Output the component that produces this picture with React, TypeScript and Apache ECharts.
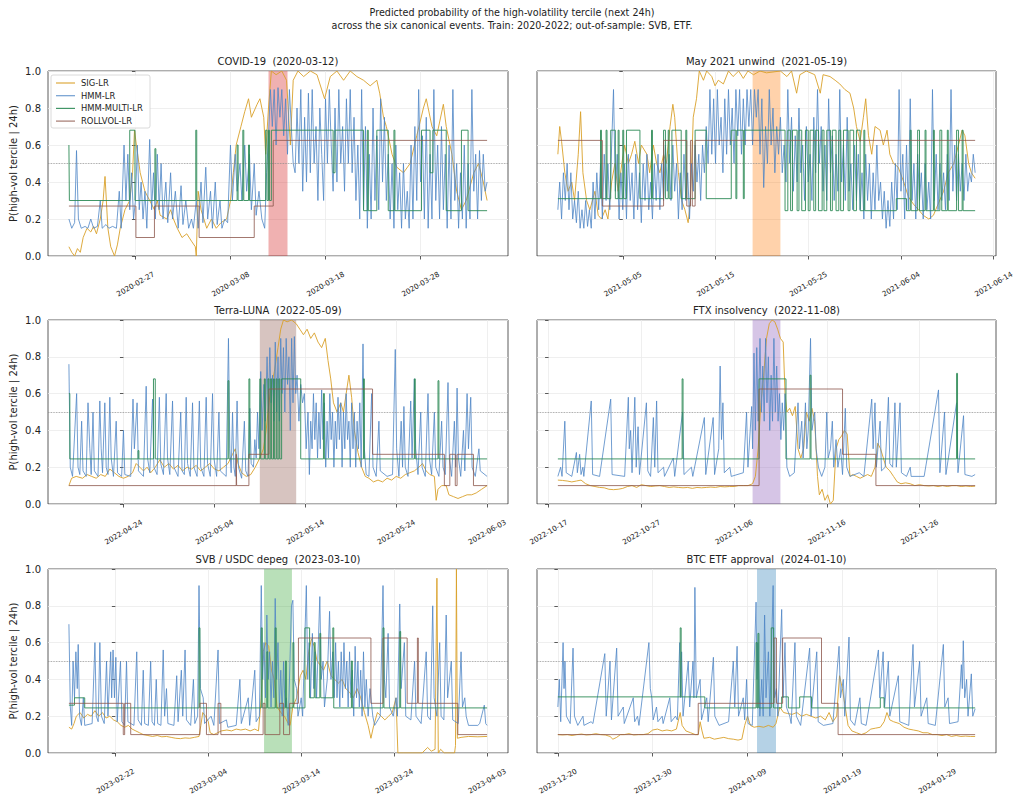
import React, { useEffect, useRef } from "react";
import * as echarts from "echarts";

type Pt = [number, number];

const SERIES_NAMES = ["SIG-LR", "HMM-LR", "HMM-MULTI-LR", "ROLLVOL-LR"];
const MAIN_TITLE = [
  "Predicted probability of the high-volatility tercile (next 24h)",
  "across the six canonical events. Train: 2020-2022; out-of-sample: SVB, ETF.",
];
const Y_LABEL = "P(high-vol tercile | 24h)";
const EVENT_TITLES = [
  "COVID-19 \u00a0(2020-03-12)",
  "May 2021 unwind \u00a0(2021-05-19)",
  "Terra-LUNA \u00a0(2022-05-09)",
  "FTX insolvency \u00a0(2022-11-08)",
  "SVB / USDC depeg \u00a0(2023-03-10)",
  "BTC ETF approval \u00a0(2024-01-10)",
];
// window start dates; all values below are [days after window start, probability]
const WINDOW_START = ["2020-02-20", "2021-04-28", "2022-04-18", "2022-10-18", "2023-02-17", "2023-12-20"];
const WINDOW_END_DAY = [44, 45, 46, 45, 45, 44];
const SHADE_START_DAY = [21, 21, 21, 21, 21, 21];
const SHADE_END_DAY = [23, 24, 25, 24, 24, 23];
const TICK_ANCHOR = ["2020-02-27", "2021-05-05", "2022-04-24", "2022-10-17", "2023-02-22", "2023-12-20"];
const TICK_STEPS = [0, 10, 20, 30, 40];

// ---------- COVID-19 ----------
const covidSig: Pt[] = [[0,0.05],[0.3,0.02],[0.6,0.0],[0.9,0.04],[1.2,0.02],[1.5,0.1],[1.9,0.15],[2.3,0.13],[2.6,0.16],[2.9,0.12],[3.3,0.2],[3.6,0.3],[3.8,0.43],[4.1,0.15],[4.4,0.05],[4.8,0.0],[5.1,0.06],[5.4,0.15],[5.9,0.25],[6.4,0.3],[6.7,0.45],[6.9,0.68],[7.1,0.6],[7.5,0.45],[8.0,0.35],[8.5,0.3],[9.0,0.25],[9.3,0.3],[9.6,0.22],[10.3,0.2],[10.7,0.25],[11.0,0.2],[11.4,0.15],[11.9,0.1],[12.4,0.12],[12.9,0.08],[13.3,0.05],[13.4,0.0],[13.6,0.35],[13.9,0.25],[14.5,0.15],[15.0,0.2],[15.5,0.15],[16.0,0.18],[16.6,0.2],[17.0,0.3],[17.3,0.45],[17.6,0.6],[18.1,0.7],[18.5,0.78],[18.9,0.85],[19.2,0.75],[19.8,0.82],[20.1,0.85],[20.5,0.75],[20.7,0.55],[21.0,0.8],[21.3,1.0],[21.8,0.98],[22.4,1.0],[22.9,0.95],[23.3,0.6],[23.6,0.95],[24.1,1.0],[24.7,0.97],[25.4,1.0],[26.1,0.98],[26.9,0.85],[27.5,0.97],[28.2,1.0],[28.9,0.95],[29.6,1.0],[30.3,0.97],[31.0,0.95],[31.7,0.92],[32.4,0.95],[32.7,0.88],[33.1,0.75],[33.4,0.7],[34.0,0.55],[34.5,0.48],[35.2,0.45],[35.9,0.5],[36.6,0.65],[37.3,0.8],[37.6,0.85],[38.2,0.7],[38.7,0.65],[39.4,0.82],[39.7,0.7],[40.3,0.55],[40.8,0.35],[41.3,0.25],[41.8,0.3],[42.6,0.45],[43.1,0.5],[43.6,0.4],[44.0,0.3]];
const covidHmm: Pt[] = [[0,0.2],[0.3,0.15],[0.6,0.18],[0.8,0.57],[1.0,0.2],[1.3,0.15],[1.7,0.16],[2.0,0.15],[2.3,0.2],[2.6,0.15],[3.0,0.16],[3.3,0.3],[3.5,0.15],[3.9,0.17],[4.2,0.15],[4.6,0.16],[5.0,0.15],[5.3,0.35],[5.5,0.15],[5.8,0.6],[6.0,0.3],[6.2,0.55],[6.4,0.25],[6.6,0.45],[6.8,0.2],[7.0,0.3],[7.2,0.6],[7.4,0.25],[7.6,0.4],[7.8,0.2],[8.0,0.35],[8.2,0.15],[8.5,0.63],[8.7,0.25],[8.9,0.45],[9.1,0.2],[9.3,0.55],[9.5,0.25],[9.7,0.5],[9.9,0.2],[10.2,0.4],[10.4,0.18],[10.7,0.45],[10.9,0.2],[11.2,0.35],[11.5,0.15],[11.8,0.38],[12.0,0.17],[12.3,0.3],[12.6,0.15],[12.9,0.2],[13.1,0.15],[13.4,0.3],[13.6,0.15],[13.9,0.4],[14.1,0.18],[14.4,0.48],[14.6,0.2],[14.9,0.35],[15.1,0.15],[15.4,0.4],[15.6,0.17],[15.9,0.3],[16.1,0.15],[16.4,0.2],[16.7,0.18],[17.0,0.6],[17.2,0.3],[17.5,0.55],[17.7,0.35],[18.0,0.5],[18.2,0.3],[18.5,0.6],[18.7,0.35],[19.0,0.55],[19.2,0.25],[19.5,0.5],[19.7,0.22],[20.0,0.35],[20.3,0.2],[20.6,0.15],[20.8,0.45],[21.0,0.65],[21.2,0.9],[21.4,0.7],[21.6,0.9],[21.8,0.6],[22.0,0.91],[22.2,0.75],[22.4,0.9],[22.6,0.65],[22.8,0.85],[23.0,0.55],[23.2,0.9],[23.4,0.7],[23.6,0.5],[23.8,0.45],[24.0,0.8],[24.2,0.5],[24.4,0.9],[24.6,0.35],[24.8,0.75],[25.0,0.4],[25.2,0.88],[25.4,0.45],[25.6,0.9],[25.8,0.5],[26.0,0.7],[26.2,0.3],[26.4,0.8],[26.6,0.55],[26.8,0.3],[27.0,0.85],[27.2,0.5],[27.4,0.9],[27.6,0.6],[27.8,0.35],[28.0,0.8],[28.2,0.4],[28.4,0.9],[28.6,0.5],[28.8,0.7],[29.0,0.35],[29.2,0.85],[29.4,0.5],[29.6,0.9],[29.8,0.45],[30.0,0.75],[30.2,0.3],[30.4,0.6],[30.6,0.2],[30.8,0.9],[31.0,0.25],[31.2,0.7],[31.4,0.15],[31.6,0.55],[31.8,0.2],[32.0,0.8],[32.2,0.3],[32.4,0.65],[32.6,0.25],[32.8,0.85],[33.0,0.4],[33.2,0.75],[33.4,0.3],[33.6,0.55],[33.8,0.2],[34.0,0.5],[34.2,0.15],[34.4,0.6],[34.6,0.25],[34.8,0.45],[35.0,0.15],[35.2,0.5],[35.4,0.2],[35.6,0.35],[35.8,0.15],[36.0,0.6],[36.2,0.2],[36.4,0.7],[36.6,0.3],[36.8,0.9],[37.0,0.4],[37.2,0.65],[37.4,0.2],[37.6,0.75],[37.8,0.15],[38.0,0.55],[38.2,0.2],[38.4,0.9],[38.6,0.3],[38.8,0.6],[39.0,0.2],[39.2,0.7],[39.4,0.25],[39.6,0.55],[39.8,0.15],[40.0,0.6],[40.2,0.2],[40.4,0.9],[40.6,0.3],[40.8,0.5],[41.0,0.15],[41.2,0.45],[41.4,0.2],[41.6,0.6],[41.8,0.15],[42.0,0.5],[42.2,0.2],[42.4,0.9],[42.6,0.35],[42.8,0.55],[43.0,0.2],[43.2,0.57],[43.4,0.3],[43.6,0.55],[43.8,0.35],[44.0,0.4]];
const covidMulti: Pt[] = [[0,0.6],[0.05,0.3],[6.4,0.68],[6.95,0.3],[9.05,0.58],[9.15,0.3],[13.35,0.68],[13.45,0.3],[17.7,0.6],[17.8,0.3],[18.3,0.68],[18.4,0.3],[18.9,0.6],[19.0,0.3],[20.7,0.68],[20.85,0.3],[21.0,0.68],[21.1,0.3],[21.3,0.68],[27.8,0.45],[28.0,0.68],[31.0,0.245],[31.4,0.68],[31.5,0.245],[32.4,0.68],[33.6,0.245],[34.2,0.68],[34.3,0.245],[37.1,0.68],[38.0,0.45],[38.3,0.68],[39.7,0.245],[41.3,0.68],[42.0,0.245],[44.0,0.245]];
const covidRoll: Pt[] = [[0,0.27],[7.05,0.1],[9.0,0.27],[13.7,0.1],[19.5,0.27],[21.5,0.625],[44.0,0.625]];

// ---------- May 2021 ----------
const maySig: Pt[] = [[0,0.55],[0.2,0.7],[0.4,0.62],[0.75,0.45],[1.1,0.35],[1.5,0.4],[1.8,0.3],[2.2,0.55],[2.45,0.78],[2.7,0.45],[3.1,0.3],[3.45,0.25],[4.0,0.35],[4.35,0.22],[4.7,0.2],[5.1,0.25],[5.4,0.2],[5.8,0.4],[6.15,0.5],[6.5,0.35],[6.9,0.5],[7.2,0.6],[7.6,0.5],[7.95,0.55],[8.3,0.62],[8.7,0.5],[9.0,0.6],[9.6,0.55],[9.9,0.45],[10.3,0.6],[10.65,0.5],[11.0,0.45],[11.4,0.55],[11.7,0.5],[12.1,0.7],[12.4,0.82],[12.6,0.75],[13.0,0.45],[13.35,0.3],[13.7,0.25],[14.05,0.18],[14.3,0.3],[14.6,0.75],[14.95,0.85],[15.25,1.0],[15.7,0.95],[16.05,1.0],[16.6,0.97],[16.95,0.92],[17.3,0.95],[17.85,0.93],[18.4,1.0],[18.9,0.97],[19.5,1.0],[20.0,0.96],[20.5,1.0],[21.1,0.98],[21.8,1.0],[22.5,0.99],[24.0,1.0],[24.7,0.97],[25.2,1.0],[25.75,0.88],[26.1,0.98],[26.8,1.0],[27.7,0.98],[28.3,0.88],[28.6,0.98],[29.35,0.97],[29.9,0.95],[30.4,0.93],[30.95,0.9],[31.5,0.88],[31.9,0.8],[32.2,0.7],[32.6,0.62],[32.95,0.75],[33.2,0.85],[33.5,0.65],[33.85,0.55],[34.2,0.7],[34.75,0.68],[35.1,0.6],[35.5,0.68],[35.8,0.55],[36.2,0.5],[36.7,0.48],[37.3,0.4],[37.8,0.32],[38.35,0.28],[38.9,0.25],[39.4,0.22],[40.0,0.2],[40.5,0.22],[41.0,0.28],[41.6,0.35],[42.1,0.45],[42.7,0.5],[43.2,0.6],[43.6,0.68],[43.9,0.65],[44.3,0.5],[44.6,0.45],[45.0,0.42]];
const mayHmm: Pt[] = [[0,0.25],[0.2,0.4],[0.4,0.2],[0.6,0.45],[0.8,0.3],[1.0,0.5],[1.2,0.25],[1.4,0.45],[1.6,0.2],[1.8,0.3],[2.0,0.18],[2.2,0.35],[2.4,0.15],[2.6,0.25],[2.8,0.15],[3.0,0.3],[3.2,0.16],[3.4,0.25],[3.6,0.15],[3.8,0.4],[4.0,0.2],[4.2,0.45],[4.4,0.25],[4.6,0.5],[4.8,0.2],[5.0,0.55],[5.2,0.3],[5.4,0.5],[5.6,0.25],[5.8,0.6],[6.0,0.9],[6.2,0.35],[6.4,0.55],[6.6,0.2],[6.8,0.45],[7.0,0.25],[7.2,0.5],[7.4,0.2],[7.6,0.55],[7.8,0.3],[8.0,0.45],[8.2,0.2],[8.4,0.55],[8.6,0.25],[8.8,0.45],[9.0,0.18],[9.2,0.5],[9.4,0.3],[9.6,0.55],[9.8,0.25],[10.0,0.4],[10.2,0.2],[10.4,0.5],[10.6,0.3],[10.8,0.55],[11.0,0.25],[11.2,0.5],[11.4,0.3],[11.6,0.6],[11.8,0.35],[12.0,0.55],[12.2,0.3],[12.4,0.6],[12.6,0.35],[12.8,0.5],[13.0,0.2],[13.2,0.45],[13.4,0.25],[13.6,0.55],[13.8,0.3],[14.0,0.45],[14.2,0.2],[14.4,0.5],[14.6,0.35],[14.8,0.6],[15.0,0.4],[15.2,0.55],[15.4,0.3],[15.6,0.6],[15.8,0.45],[16.0,0.7],[16.2,0.5],[16.4,0.9],[16.6,0.55],[16.8,0.85],[17.0,0.5],[17.2,0.9],[17.4,0.6],[17.6,0.75],[17.8,0.45],[18.0,0.85],[18.2,0.55],[18.4,0.9],[18.6,0.6],[18.8,0.8],[19.0,0.5],[19.2,0.9],[19.4,0.65],[19.6,0.9],[19.8,0.55],[20.0,0.85],[20.2,0.6],[20.4,0.9],[20.6,0.7],[20.8,0.9],[21.0,0.6],[21.2,0.9],[21.4,0.75],[21.6,0.9],[21.8,0.55],[22.0,0.85],[22.2,0.37],[22.4,0.7],[22.6,0.5],[22.8,0.9],[23.0,0.6],[23.2,0.8],[23.4,0.45],[23.6,0.7],[23.8,0.55],[24.0,0.75],[24.2,0.45],[24.4,0.6],[24.6,0.4],[24.8,0.9],[25.0,0.5],[25.2,0.75],[25.4,0.35],[25.6,0.65],[25.8,0.4],[26.0,0.8],[26.2,0.45],[26.4,0.6],[26.6,0.3],[26.8,0.7],[27.0,0.4],[27.2,0.55],[27.4,0.3],[27.6,0.75],[27.8,0.45],[28.0,0.9],[28.2,0.5],[28.4,0.7],[28.6,0.35],[28.8,0.6],[29.0,0.3],[29.2,0.85],[29.4,0.45],[29.6,0.65],[29.8,0.3],[30.0,0.55],[30.2,0.35],[30.4,0.9],[30.6,0.4],[30.8,0.6],[31.0,0.3],[31.2,0.75],[31.4,0.35],[31.6,0.5],[31.8,0.25],[32.0,0.6],[32.2,0.3],[32.4,0.55],[32.6,0.25],[32.8,0.45],[33.0,0.2],[33.2,0.55],[33.4,0.3],[33.6,0.5],[33.8,0.2],[34.0,0.45],[34.2,0.25],[34.4,0.6],[34.6,0.3],[34.8,0.4],[35.0,0.2],[35.2,0.35],[35.4,0.15],[35.6,0.3],[35.8,0.16],[36.0,0.4],[36.2,0.2],[36.4,0.5],[36.6,0.25],[36.8,0.9],[37.0,0.35],[37.2,0.55],[37.4,0.2],[37.6,0.6],[37.8,0.25],[38.0,0.85],[38.2,0.3],[38.4,0.5],[38.6,0.2],[38.8,0.55],[39.0,0.3],[39.2,0.45],[39.4,0.2],[39.6,0.5],[39.8,0.25],[40.0,0.4],[40.2,0.2],[40.4,0.9],[40.6,0.3],[40.8,0.55],[41.0,0.25],[41.2,0.5],[41.4,0.3],[41.6,0.45],[41.8,0.25],[42.0,0.55],[42.2,0.3],[42.4,0.9],[42.6,0.35],[42.8,0.6],[43.0,0.3],[43.2,0.55],[43.4,0.35],[43.6,0.5],[43.8,0.3],[44.0,0.55],[44.2,0.35],[44.4,0.45],[44.6,0.4],[44.8,0.55],[45.0,0.45]];
const mayMulti: Pt[] = [[0,0.31],[4.6,0.68],[4.7,0.31],[5.2,0.68],[5.3,0.31],[5.7,0.68],[6.2,0.31],[6.5,0.68],[6.6,0.31],[7.0,0.68],[7.1,0.31],[7.4,0.68],[8.85,0.31],[10.1,0.68],[10.2,0.31],[11.4,0.68],[11.6,0.31],[11.9,0.68],[12.0,0.31],[12.3,0.68],[13.3,0.31],[13.8,0.68],[13.9,0.31],[14.8,0.68],[16.0,0.31],[18.7,0.68],[19.2,0.31],[19.3,0.68],[20.0,0.31],[20.1,0.68],[24.5,0.245],[24.8,0.68],[25.1,0.245],[25.3,0.68],[25.8,0.245],[26.0,0.68],[26.3,0.245],[26.7,0.68],[27.0,0.245],[27.2,0.68],[27.6,0.245],[27.8,0.68],[28.1,0.245],[28.5,0.68],[28.7,0.245],[29.0,0.68],[29.4,0.245],[29.6,0.68],[30.0,0.245],[30.3,0.68],[30.5,0.245],[30.8,0.68],[31.3,0.245],[31.5,0.68],[31.9,0.245],[32.2,0.68],[32.6,0.245],[33.0,0.68],[33.1,0.245],[36.5,0.31],[37.6,0.245],[38.0,0.68],[38.1,0.245],[38.8,0.68],[39.0,0.245],[39.6,0.68],[39.7,0.245],[40.5,0.68],[40.6,0.245],[41.2,0.68],[41.4,0.245],[42.0,0.68],[42.1,0.245],[43.0,0.68],[43.2,0.245],[43.6,0.68],[43.7,0.245],[45.0,0.245]];
const mayRoll: Pt[] = [[0,0.625],[4.8,0.27],[11.4,0.625],[13.9,0.27],[14.3,0.625],[14.5,0.27],[14.8,0.625],[45.0,0.625]];

// ---------- Terra-LUNA ----------
const lunaSig: Pt[] = [[0,0.1],[0.3,0.14],[0.8,0.15],[1.5,0.14],[2.0,0.16],[2.5,0.15],[3.0,0.14],[3.5,0.16],[4.0,0.15],[4.5,0.19],[5.0,0.17],[5.5,0.15],[6.0,0.14],[6.5,0.15],[7.0,0.17],[7.4,0.22],[7.8,0.2],[8.2,0.18],[8.6,0.2],[9.0,0.17],[9.5,0.2],[10.0,0.24],[10.5,0.2],[11.0,0.22],[11.5,0.19],[12.0,0.21],[12.5,0.18],[13.0,0.2],[13.5,0.19],[14.0,0.21],[14.5,0.18],[15.0,0.2],[15.5,0.22],[16.0,0.19],[16.5,0.18],[17.0,0.2],[17.5,0.22],[18.0,0.27],[18.3,0.3],[18.6,0.22],[19.0,0.17],[19.5,0.15],[20.0,0.16],[20.5,0.2],[21.0,0.25],[21.4,0.3],[21.7,0.4],[22.0,0.55],[22.3,0.65],[22.6,0.72],[23.0,0.85],[23.3,0.95],[23.6,1.0],[24.0,0.99],[24.5,1.0],[25.0,0.98],[25.4,0.95],[25.8,0.92],[26.2,0.95],[26.6,0.9],[27.0,0.93],[27.4,0.88],[27.8,0.85],[28.2,0.9],[28.5,0.78],[28.8,0.68],[29.1,0.55],[29.5,0.5],[29.9,0.55],[30.2,0.5],[30.5,0.6],[30.8,0.7],[31.1,0.58],[31.4,0.4],[31.8,0.28],[32.2,0.2],[32.6,0.15],[33.0,0.14],[33.5,0.12],[34.0,0.13],[34.5,0.12],[35.0,0.14],[35.5,0.13],[36.0,0.15],[36.5,0.14],[37.0,0.16],[37.5,0.17],[38.0,0.18],[38.5,0.2],[38.9,0.22],[39.3,0.18],[39.7,0.16],[40.2,0.15],[40.4,0.02],[40.6,0.08],[41.0,0.1],[41.5,0.1],[41.8,0.05],[42.3,0.04],[42.8,0.03],[43.3,0.04],[43.8,0.05],[44.3,0.05],[44.8,0.06],[45.4,0.08],[46.0,0.1]];
const lunaHmm: Pt[] = [[0,0.76],[0.15,0.2],[0.4,0.15],[0.85,0.6],[1.0,0.2],[1.2,0.16],[1.4,0.45],[1.55,0.18],[1.9,0.15],[2.1,0.55],[2.3,0.3],[2.45,0.16],[2.65,0.5],[2.8,0.18],[3.2,0.15],[3.4,0.56],[3.55,0.3],[3.7,0.17],[3.95,0.55],[4.1,0.2],[4.3,0.16],[4.5,0.58],[4.65,0.25],[4.9,0.15],[5.2,0.45],[5.35,0.17],[5.8,0.15],[6.0,0.4],[6.15,0.16],[6.8,0.15],[7.05,0.57],[7.2,0.3],[7.5,0.55],[7.65,0.18],[8.2,0.15],[8.5,0.64],[8.65,0.25],[8.9,0.17],[9.2,0.57],[9.35,0.2],[9.7,0.16],[9.95,0.58],[10.1,0.22],[10.4,0.16],[10.7,0.6],[10.85,0.25],[11.1,0.16],[11.4,0.56],[11.55,0.2],[12.0,0.15],[12.3,0.5],[12.45,0.18],[12.7,0.16],[12.9,0.58],[13.05,0.22],[13.35,0.15],[13.6,0.55],[13.75,0.2],[14.1,0.15],[14.35,0.56],[14.5,0.2],[14.85,0.15],[15.1,0.58],[15.25,0.22],[15.55,0.15],[15.8,0.6],[15.95,0.25],[16.25,0.15],[16.5,0.5],[16.65,0.18],[17.3,0.15],[17.55,0.9],[17.7,0.3],[17.85,0.17],[18.0,0.5],[18.15,0.2],[18.3,0.15],[18.5,0.56],[18.65,0.2],[19.0,0.14],[19.3,0.45],[19.45,0.18],[19.7,0.15],[19.9,0.52],[20.05,0.22],[20.3,0.2],[20.45,0.35],[20.6,0.25],[20.75,0.5],[20.9,0.3],[21.1,0.72],[21.25,0.4],[21.45,0.65],[21.6,0.45],[21.8,0.8],[21.95,0.5],[22.1,0.85],[22.25,0.55],[22.4,0.7],[22.55,0.45],[22.7,0.88],[22.85,0.5],[23.0,0.8],[23.15,0.45],[23.3,0.9],[23.45,0.6],[23.6,0.85],[23.75,0.5],[23.9,0.9],[24.05,0.65],[24.2,0.8],[24.35,0.4],[24.5,0.9],[24.65,0.55],[24.8,0.91],[24.95,0.6],[25.1,0.7],[25.3,0.45],[25.5,0.65],[25.7,0.55],[25.9,0.6],[26.1,0.3],[26.3,0.5],[26.45,0.16],[26.6,0.45],[26.75,0.3],[26.9,0.6],[27.05,0.35],[27.2,0.55],[27.35,0.25],[27.5,0.5],[27.65,0.3],[27.8,0.62],[27.95,0.35],[28.1,0.55],[28.25,0.2],[28.4,0.45],[28.55,0.25],[28.7,0.6],[28.85,0.35],[29.0,0.5],[29.15,0.2],[29.3,0.45],[29.45,0.3],[29.6,0.58],[29.75,0.35],[29.9,0.55],[30.05,0.2],[30.2,0.5],[30.35,0.3],[30.5,0.6],[30.65,0.35],[30.8,0.45],[30.95,0.2],[31.1,0.55],[31.25,0.3],[31.4,0.5],[31.55,0.2],[31.7,0.45],[31.85,0.3],[32.0,0.55],[32.15,0.2],[32.35,0.87],[32.5,0.3],[32.7,0.16],[33.0,0.15],[33.3,0.6],[33.45,0.2],[33.8,0.15],[34.1,0.45],[34.25,0.18],[35.0,0.15],[35.6,0.16],[35.9,0.84],[36.05,0.3],[36.3,0.15],[36.55,0.45],[36.7,0.2],[36.85,0.53],[37.0,0.2],[37.3,0.15],[37.6,0.56],[37.75,0.25],[38.0,0.68],[38.15,0.3],[38.4,0.16],[38.7,0.5],[38.85,0.2],[39.2,0.15],[39.5,0.6],[39.65,0.25],[39.9,0.16],[40.2,0.5],[40.35,0.2],[40.7,0.15],[41.0,0.45],[41.15,0.2],[41.4,0.16],[41.7,0.66],[41.85,0.25],[42.1,0.15],[42.4,0.45],[42.55,0.2],[42.7,0.63],[42.85,0.25],[43.1,0.15],[43.4,0.4],[43.55,0.18],[43.8,0.6],[43.95,0.3],[44.2,0.58],[44.35,0.2],[44.7,0.15],[45.1,0.3],[45.25,0.18],[46.0,0.15]];
const lunaMulti: Pt[] = [[0,0.6],[0.1,0.245],[7.6,0.29],[7.7,0.245],[9.3,0.68],[9.5,0.245],[17.5,0.67],[17.6,0.245],[19.8,0.68],[19.9,0.245],[21.0,0.68],[21.1,0.245],[21.5,0.68],[21.6,0.245],[21.9,0.68],[22.0,0.245],[22.2,0.68],[22.3,0.245],[22.5,0.68],[22.6,0.245],[22.8,0.68],[22.9,0.245],[23.1,0.68],[23.2,0.245],[23.4,0.68],[25.5,0.245],[28.0,0.6],[28.1,0.245],[32.4,0.68],[32.5,0.245],[38.0,0.68],[38.1,0.245],[40.6,0.67],[40.7,0.245],[46.0,0.245]];
const lunaRoll: Pt[] = [[0,0.1],[18.4,0.27],[18.45,0.1],[19.8,0.27],[22.0,0.625],[33.4,0.27],[41.3,0.1],[41.9,0.27],[42.5,0.1],[42.7,0.27],[44.5,0.1],[46.0,0.1]];

// ---------- FTX ----------
const ftxSig: Pt[] = [[0,0.13],[0.5,0.128],[1.0,0.125],[1.5,0.12],[2.0,0.125],[2.5,0.13],[3.0,0.11],[3.5,0.1],[4.0,0.095],[4.5,0.09],[5.0,0.088],[5.5,0.08],[6.0,0.078],[6.5,0.08],[7.0,0.085],[7.5,0.095],[8.0,0.1],[8.5,0.09],[9.0,0.105],[9.5,0.1],[10.0,0.095],[10.5,0.098],[11.0,0.1],[11.5,0.095],[12.0,0.09],[12.5,0.093],[13.0,0.09],[13.5,0.088],[14.0,0.09],[14.5,0.085],[15.0,0.09],[15.5,0.088],[16.0,0.09],[16.5,0.092],[17.0,0.09],[17.5,0.095],[18.0,0.093],[18.5,0.095],[19.0,0.095],[19.5,0.1],[20.0,0.1],[20.5,0.1],[21.0,0.11],[21.3,0.15],[21.6,0.3],[21.9,0.55],[22.2,0.7],[22.5,0.9],[22.8,0.98],[23.1,1.0],[23.4,0.99],[23.7,0.95],[24.0,0.9],[24.3,0.88],[24.5,0.6],[24.7,0.5],[25.0,0.52],[25.3,0.48],[25.6,0.53],[25.9,0.3],[26.2,0.25],[26.5,0.3],[26.8,0.5],[27.1,0.45],[27.4,0.52],[27.7,0.45],[28.0,0.15],[28.2,0.05],[28.5,0.08],[28.8,0.02],[29.1,0.05],[29.4,0.0],[29.7,0.02],[30.0,0.3],[30.3,0.35],[30.6,0.37],[30.9,0.4],[31.2,0.38],[31.5,0.15],[31.8,0.16],[32.2,0.15],[32.6,0.14],[33.0,0.15],[33.4,0.16],[33.8,0.15],[34.2,0.2],[34.5,0.33],[34.8,0.3],[35.1,0.25],[35.4,0.2],[35.8,0.18],[36.2,0.15],[36.6,0.12],[37.0,0.11],[37.5,0.115],[38.0,0.11],[38.5,0.1],[39.0,0.105],[39.5,0.1],[40.0,0.098],[40.5,0.1],[41.0,0.095],[41.5,0.1],[42.0,0.095],[42.5,0.1],[43.0,0.1],[43.5,0.095],[44.0,0.098],[44.5,0.095],[45.0,0.097]];
const ftxHmm: Pt[] = [[0,0.15],[0.3,0.2],[0.45,0.15],[0.75,0.45],[0.9,0.17],[1.5,0.15],[2.0,0.28],[2.1,0.17],[2.35,0.27],[2.5,0.16],[2.7,0.2],[2.8,0.15],[3.6,0.56],[3.75,0.16],[4.5,0.15],[5.7,0.57],[5.85,0.16],[7.2,0.15],[7.6,0.58],[7.7,0.3],[7.85,0.4],[8.0,0.17],[8.3,0.58],[8.45,0.2],[8.65,0.42],[8.8,0.16],[9.55,0.55],[9.7,0.18],[10.0,0.15],[10.3,0.47],[10.45,0.2],[10.65,0.56],[10.8,0.17],[11.4,0.2],[11.5,0.15],[12.45,0.25],[12.6,0.15],[13.45,0.5],[13.6,0.16],[14.4,0.2],[14.55,0.15],[15.8,0.47],[15.95,0.16],[16.75,0.47],[16.9,0.16],[17.35,0.3],[17.5,0.75],[17.65,0.35],[17.8,0.55],[17.95,0.17],[18.55,0.2],[18.7,0.15],[20.0,0.17],[20.35,0.5],[20.5,0.2],[20.9,0.53],[21.0,0.3],[21.15,0.82],[21.3,0.4],[21.45,0.85],[21.6,0.45],[21.8,0.9],[21.95,0.5],[22.1,0.75],[22.25,0.45],[22.4,0.9],[22.55,0.55],[22.7,0.8],[22.85,0.4],[23.0,0.7],[23.15,0.45],[23.3,0.9],[23.45,0.5],[23.6,0.75],[23.75,0.45],[23.9,0.6],[24.05,0.35],[24.2,0.55],[24.35,0.4],[24.5,0.6],[24.7,0.2],[25.0,0.15],[25.5,0.17],[25.9,0.55],[26.05,0.3],[26.3,0.45],[26.45,0.25],[26.7,0.55],[26.85,0.3],[27.0,0.4],[27.25,0.9],[27.4,0.4],[27.7,0.5],[27.85,0.3],[28.1,0.2],[28.45,0.15],[28.8,0.2],[29.0,0.5],[29.15,0.25],[29.4,0.3],[29.6,0.45],[29.75,0.2],[30.0,0.35],[30.2,0.2],[30.5,0.3],[30.7,0.16],[31.0,0.52],[31.15,0.2],[31.5,0.15],[32.5,0.17],[33.0,0.15],[33.85,0.57],[34.0,0.3],[34.2,0.55],[34.35,0.2],[34.75,0.45],[34.9,0.18],[35.3,0.2],[35.65,0.58],[35.8,0.22],[36.1,0.2],[36.35,0.55],[36.5,0.2],[36.9,0.55],[37.05,0.17],[37.6,0.15],[38.0,0.2],[38.1,0.15],[39.5,0.15],[41.05,0.62],[41.2,0.17],[41.7,0.5],[41.85,0.16],[43.0,0.55],[43.15,0.17],[43.75,0.48],[43.9,0.16],[44.65,0.15],[45.0,0.16]];
const ftxMulti: Pt[] = [[0,0.245],[13.4,0.68],[13.5,0.245],[21.7,0.68],[24.6,0.245],[27.2,0.7],[27.3,0.245],[43.0,0.71],[43.1,0.245],[45.0,0.245]];
const ftxRoll: Pt[] = [[0,0.1],[21.7,0.625],[30.7,0.27],[34.3,0.1],[45.0,0.1]];

// ---------- SVB / USDC ----------
const svbSig: Pt[] = [[0,0.14],[0.3,0.13],[0.55,0.16],[0.8,0.2],[1.2,0.22],[1.6,0.19],[2.0,0.21],[2.4,0.2],[2.8,0.23],[3.2,0.2],[3.6,0.22],[4.0,0.19],[4.4,0.2],[4.8,0.18],[5.2,0.17],[5.6,0.15],[6.0,0.14],[6.4,0.15],[6.8,0.13],[7.2,0.12],[7.6,0.11],[8.0,0.1],[8.5,0.095],[9.0,0.09],[9.5,0.095],[10.0,0.088],[10.5,0.09],[11.0,0.085],[11.5,0.08],[12.0,0.078],[12.5,0.082],[13.0,0.08],[13.5,0.085],[14.0,0.09],[14.2,0.15],[14.4,0.22],[14.7,0.2],[15.0,0.17],[15.2,0.11],[15.6,0.1],[16.0,0.11],[16.4,0.12],[17.0,0.125],[17.5,0.12],[18.0,0.13],[18.5,0.125],[19.0,0.13],[19.5,0.12],[20.0,0.13],[20.4,0.12],[20.7,0.3],[20.9,0.55],[21.2,0.6],[21.5,0.58],[21.8,0.45],[22.1,0.4],[22.4,0.25],[22.8,0.22],[23.2,0.2],[23.6,0.16],[23.8,0.15],[24.1,0.25],[24.5,0.3],[24.9,0.42],[25.2,0.45],[25.5,0.4],[25.8,0.55],[26.1,0.62],[26.4,0.58],[26.7,0.5],[27.0,0.48],[27.4,0.45],[27.8,0.5],[28.2,0.42],[28.6,0.4],[29.0,0.38],[29.4,0.4],[29.8,0.35],[30.2,0.33],[30.6,0.3],[31.0,0.35],[31.4,0.3],[31.8,0.22],[32.2,0.15],[32.5,0.08],[32.8,0.15],[33.2,0.22],[33.6,0.2],[34.0,0.18],[34.4,0.2],[34.8,0.22],[35.2,0.3],[35.4,0.0],[36.0,0.0],[37.0,0.0],[38.0,0.0],[38.6,0.03],[39.0,0.01],[39.4,0.02],[39.6,0.95],[39.75,0.0],[40.0,0.02],[40.4,0.0],[41.5,0.0],[41.6,0.04],[41.7,1.0],[41.8,0.08],[42.2,0.085],[43.0,0.09],[44.0,0.088],[45.0,0.09]];
const svbHmm: Pt[] = [[0,0.7],[0.15,0.25],[0.3,0.15],[0.45,0.5],[0.6,0.3],[0.75,0.55],[0.9,0.35],[1.0,0.59],[1.15,0.2],[1.35,0.15],[1.55,0.3],[1.7,0.15],[2.5,0.16],[2.8,0.6],[2.95,0.2],[3.15,0.17],[3.33,0.6],[3.5,0.2],[3.8,0.16],[4.05,0.5],[4.2,0.2],[4.5,0.55],[4.6,0.3],[4.75,0.56],[4.9,0.3],[5.05,0.52],[5.2,0.17],[5.55,0.5],[5.7,0.17],[6.0,0.15],[6.2,0.5],[6.35,0.17],[7.0,0.15],[7.3,0.55],[7.45,0.18],[7.8,0.15],[8.0,0.45],[8.15,0.16],[8.55,0.15],[8.8,0.5],[8.95,0.17],[9.2,0.15],[9.4,0.4],[9.55,0.16],[9.9,0.15],[10.15,0.56],[10.3,0.2],[10.5,0.35],[10.65,0.16],[11.3,0.15],[11.6,0.42],[11.75,0.17],[12.1,0.45],[12.25,0.2],[12.5,0.56],[12.65,0.18],[13.1,0.15],[13.4,0.4],[13.55,0.16],[13.85,0.2],[14.0,0.91],[14.15,0.35],[14.45,0.3],[14.6,0.16],[15.3,0.2],[15.6,0.15],[16.05,0.56],[16.2,0.16],[16.95,0.18],[17.1,0.14],[18.0,0.15],[18.4,0.4],[18.55,0.16],[19.3,0.3],[19.45,0.15],[20.0,0.45],[20.15,0.17],[20.5,0.2],[20.7,0.91],[20.85,0.4],[21.0,0.6],[21.15,0.3],[21.3,0.75],[21.45,0.4],[21.6,0.55],[21.75,0.25],[21.9,0.5],[22.05,0.3],[22.2,0.84],[22.35,0.4],[22.5,0.6],[22.65,0.25],[22.8,0.45],[22.95,0.2],[23.1,0.5],[23.25,0.25],[23.4,0.3],[23.6,0.15],[23.95,0.8],[24.1,0.83],[24.25,0.4],[24.5,0.35],[24.65,0.2],[25.0,0.3],[25.15,0.2],[25.55,0.91],[25.7,0.4],[25.85,0.6],[26.0,0.3],[26.2,0.65],[26.35,0.35],[26.5,0.55],[26.65,0.3],[27.0,0.85],[27.15,0.4],[27.35,0.5],[27.5,0.25],[27.8,0.4],[28.05,0.77],[28.2,0.4],[28.4,0.55],[28.55,0.3],[28.7,0.6],[28.85,0.3],[29.0,0.5],[29.15,0.25],[29.3,0.55],[29.45,0.3],[29.6,0.6],[29.75,0.35],[29.9,0.5],[30.05,0.25],[30.2,0.55],[30.35,0.3],[30.5,0.45],[30.65,0.2],[30.8,0.58],[30.95,0.3],[31.1,0.5],[31.25,0.25],[31.4,0.45],[31.55,0.2],[31.7,0.55],[31.85,0.25],[32.0,0.4],[32.2,0.2],[32.4,0.35],[32.7,0.2],[32.9,0.15],[33.5,0.2],[33.8,0.91],[33.95,0.4],[34.1,0.3],[34.35,0.65],[34.5,0.25],[34.9,0.2],[35.2,0.3],[35.35,0.2],[35.6,0.81],[35.75,0.35],[36.1,0.6],[36.25,0.2],[36.8,0.18],[37.2,0.5],[37.35,0.2],[37.9,0.16],[38.45,0.55],[38.6,0.2],[38.9,0.18],[39.15,0.8],[39.3,0.3],[39.6,0.2],[39.9,0.6],[40.05,0.2],[40.35,0.18],[40.6,0.75],[40.75,0.3],[41.15,0.5],[41.3,0.18],[41.9,0.16],[42.2,0.55],[42.35,0.25],[42.6,0.3],[42.75,0.2],[43.0,0.15],[44.0,0.15],[44.2,0.16],[44.7,0.26],[44.85,0.16],[45.0,0.15]];
const svbMulti: Pt[] = [[0,0.26],[0.6,0.3],[1.7,0.245],[14.0,0.68],[14.1,0.245],[20.7,0.68],[20.8,0.245],[21.3,0.55],[21.4,0.245],[22.2,0.68],[22.3,0.245],[23.3,0.5],[23.4,0.245],[24.1,0.6],[24.2,0.245],[25.4,0.68],[25.9,0.3],[26.4,0.6],[26.5,0.3],[27.0,0.65],[27.1,0.3],[28.4,0.68],[28.5,0.245],[30.4,0.5],[30.5,0.245],[33.8,0.68],[33.9,0.245],[35.6,0.66],[35.7,0.245],[45.0,0.245]];
const svbRoll: Pt[] = [[0,0.27],[5.85,0.1],[6.0,0.27],[6.65,0.1],[14.1,0.27],[14.8,0.1],[16.05,0.27],[16.35,0.1],[20.9,0.27],[21.1,0.1],[22.7,0.27],[23.1,0.1],[23.75,0.27],[24.7,0.625],[32.5,0.27],[33.8,0.625],[36.4,0.27],[37.5,0.625],[37.6,0.27],[41.85,0.1],[45.0,0.1]];

// ---------- BTC ETF ----------
const etfSig: Pt[] = [[0,0.1],[0.5,0.098],[1.0,0.1],[1.5,0.095],[2.0,0.1],[2.5,0.103],[3.0,0.098],[3.5,0.1],[4.0,0.105],[4.5,0.1],[5.0,0.098],[5.5,0.09],[5.8,0.075],[6.2,0.085],[6.6,0.1],[7.0,0.1],[7.5,0.105],[8.0,0.098],[8.5,0.1],[9.0,0.1],[9.5,0.105],[10.0,0.125],[10.5,0.13],[11.0,0.12],[11.5,0.125],[12.0,0.12],[12.5,0.13],[12.9,0.22],[13.1,0.15],[13.5,0.12],[14.0,0.11],[14.5,0.1],[14.8,0.1],[15.0,0.17],[15.2,0.12],[15.4,0.08],[16.0,0.085],[16.5,0.075],[17.0,0.08],[17.5,0.085],[18.0,0.078],[18.5,0.075],[19.0,0.07],[19.4,0.075],[19.7,0.15],[20.0,0.2],[20.3,0.15],[20.7,0.14],[21.2,0.145],[21.7,0.14],[22.2,0.15],[22.7,0.14],[23.0,0.16],[23.4,0.25],[23.8,0.22],[24.2,0.215],[24.7,0.21],[25.2,0.22],[25.7,0.2],[26.2,0.21],[26.7,0.2],[27.2,0.19],[27.7,0.2],[28.2,0.18],[28.6,0.22],[29.0,0.17],[29.4,0.2],[29.7,0.42],[30.0,0.35],[30.3,0.25],[30.6,0.15],[31.0,0.12],[31.5,0.11],[32.0,0.1],[32.5,0.11],[33.0,0.13],[33.5,0.135],[34.0,0.14],[34.4,0.17],[34.7,0.22],[35.0,0.18],[35.4,0.17],[36.0,0.16],[36.5,0.14],[37.0,0.13],[37.5,0.125],[38.0,0.12],[38.5,0.11],[39.0,0.11],[39.5,0.1],[40.0,0.1],[40.5,0.095],[41.0,0.1],[41.5,0.09],[42.0,0.095],[42.5,0.09],[43.0,0.092],[43.5,0.09],[44.0,0.09]];
const etfHmm: Pt[] = [[0,0.25],[0.15,0.4],[0.3,0.17],[0.55,0.6],[0.65,0.35],[0.75,0.5],[0.9,0.2],[1.3,0.16],[1.6,0.57],[1.75,0.2],[2.1,0.15],[2.65,0.2],[2.75,0.15],[3.5,0.17],[3.7,0.16],[4.95,0.54],[5.1,0.2],[5.5,0.5],[5.65,0.18],[6.2,0.57],[6.35,0.2],[6.9,0.25],[7.0,0.16],[7.95,0.3],[8.1,0.17],[8.4,0.2],[8.55,0.15],[9.6,0.6],[9.75,0.35],[9.9,0.3],[10.05,0.18],[10.4,0.25],[10.55,0.17],[11.0,0.2],[11.1,0.16],[11.8,0.3],[11.95,0.17],[12.4,0.2],[12.6,0.18],[12.85,0.6],[12.95,0.3],[13.05,0.55],[13.2,0.2],[13.75,0.5],[13.9,0.25],[14.25,0.5],[14.35,0.3],[14.45,0.9],[14.6,0.3],[15.0,0.4],[15.15,0.18],[15.7,0.3],[15.85,0.17],[16.4,0.52],[16.55,0.2],[17.0,0.15],[18.0,0.17],[18.5,0.5],[18.65,0.25],[18.9,0.58],[19.05,0.2],[19.55,0.3],[19.7,0.18],[19.9,0.4],[20.05,0.16],[20.5,0.15],[20.9,0.82],[21.0,0.4],[21.1,0.6],[21.3,0.2],[21.5,0.4],[21.65,0.2],[21.8,0.75],[21.95,0.3],[22.2,0.55],[22.35,0.2],[22.7,0.91],[22.85,0.3],[23.05,0.35],[23.2,0.2],[23.6,0.78],[23.75,0.3],[23.95,0.6],[24.1,0.25],[24.45,0.2],[24.6,0.16],[25.0,0.6],[25.15,0.2],[25.6,0.15],[26.55,0.57],[26.7,0.2],[27.3,0.55],[27.45,0.17],[28.0,0.15],[29.0,0.16],[29.65,0.58],[29.8,0.3],[30.1,0.4],[30.25,0.2],[30.7,0.63],[30.85,0.18],[31.3,0.15],[31.85,0.3],[32.0,0.16],[32.5,0.15],[33.8,0.56],[33.95,0.3],[34.3,0.55],[34.45,0.25],[34.85,0.5],[35.0,0.2],[35.9,0.42],[36.05,0.17],[37.0,0.15],[37.45,0.59],[37.6,0.25],[38.15,0.5],[38.3,0.2],[38.9,0.3],[39.05,0.16],[39.8,0.15],[40.65,0.59],[40.8,0.25],[41.15,0.3],[41.3,0.16],[42.2,0.17],[42.55,0.48],[42.65,0.35],[42.75,0.61],[42.9,0.3],[43.1,0.4],[43.25,0.2],[43.6,0.43],[43.75,0.2],[44.0,0.24]];
const etfMulti: Pt[] = [[0,0.305],[12.9,0.68],[13.0,0.305],[15.5,0.245],[20.9,0.6],[21.0,0.245],[21.1,0.65],[21.2,0.245],[22.5,0.68],[22.75,0.245],[23.6,0.305],[24.3,0.245],[25.5,0.305],[26.75,0.245],[34.0,0.3],[34.4,0.245],[44.0,0.245]];
const etfRoll: Pt[] = [[0,0.1],[14.8,0.27],[22.8,0.625],[23.05,0.27],[23.7,0.625],[27.8,0.27],[29.55,0.1],[44.0,0.1]];

const PANEL_SERIES: Pt[][][] = [
  [covidSig, covidHmm, covidMulti, covidRoll],
  [maySig, mayHmm, mayMulti, mayRoll],
  [lunaSig, lunaHmm, lunaMulti, lunaRoll],
  [ftxSig, ftxHmm, ftxMulti, ftxRoll],
  [svbSig, svbHmm, svbMulti, svbRoll],
  [etfSig, etfHmm, etfMulti, etfRoll],
];

// ---------- styles / layout ----------
const FONT = '"DejaVu Sans", "Liberation Sans", sans-serif';
const LINE_COLORS = ["#d9a12a", "#4f86c6", "#2e8b57", "#8c564b"];
const LINE_OPACITY = [0.9, 0.8, 0.9, 0.8];
const SHADE_COLORS = [
  "rgba(214,39,40,0.36)",
  "rgba(255,127,14,0.35)",
  "rgba(140,86,75,0.35)",
  "rgba(148,103,189,0.38)",
  "rgba(44,160,44,0.33)",
  "rgba(31,119,180,0.33)",
];
const GRID_BOXES = [
  [48, 71, 460, 185],
  [537, 71, 459, 185],
  [48, 320, 460, 184],
  [537, 320, 459, 184],
  [48, 569, 460, 184],
  [537, 569, 459, 184],
];

const DAY = 86400000;
const toMs = (s: string) => Date.parse(s + "T00:00:00Z");

function buildOption() {
  const grid: any[] = [];
  const xAxis: any[] = [];
  const yAxis: any[] = [];
  const series: any[] = [];
  const graphic: any[] = [];

  const txt = (x: number, y: number, text: string, size: number, align = "center") => ({
    type: "text", x, y, z: 100,
    style: { text, fontSize: size, fontFamily: FONT, fill: "#222", align, verticalAlign: "middle", textAlign: align, textVerticalAlign: "middle" },
  });

  graphic.push(txt(512, 12.5, MAIN_TITLE[0], 9.6), txt(512, 25.5, MAIN_TITLE[1], 9.6));

  PANEL_SERIES.forEach((arrs, i) => {
    const [gl, gt, gw, gh] = GRID_BOXES[i];
    const leftCol = i % 2 === 0;
    grid.push({
      left: gl, top: gt, width: gw, height: gh, show: true,
      borderColor: "#333", borderWidth: 0.8, backgroundColor: "transparent",
      containLabel: false, outerBoundsMode: "none",
    });
    const anchorMs = toMs(TICK_ANCHOR[i]);
    const shift = (toMs(WINDOW_START[i]) - anchorMs) / DAY;
    const span = WINDOW_END_DAY[i];
    const min = shift - 0.05 * span;
    const max = shift + 1.05 * span;
    const ticks = TICK_STEPS.filter((t) => t >= min && t <= max);
    const isTick = (v: number) => ticks.some((t) => Math.abs(t - v) < 1e-6);

    xAxis.push({
      type: "value", gridIndex: i, min, max,
      axisLine: { show: false },
      axisTick: { show: true, length: 3.5, customValues: ticks, lineStyle: { color: "#333", width: 0.8 } },
      axisLabel: {
        customValues: ticks, rotate: 30, align: "center", verticalAlign: "middle", margin: 28,
        fontSize: 7.3, fontFamily: FONT, color: "#222",
        formatter: (v: number) => (isTick(v) ? new Date(anchorMs + v * DAY).toISOString().slice(0, 10) : ""),
      },
      splitLine: { show: true, lineStyle: { color: "#ebebeb", width: 0.8 } },
    });
    yAxis.push({
      type: "value", gridIndex: i, min: 0, max: 1, interval: 0.2,
      axisLine: { show: false },
      axisTick: { show: true, length: 3.5, lineStyle: { color: "#333", width: 0.8 } },
      axisLabel: { show: leftCol, margin: 7, fontSize: 10, fontFamily: FONT, color: "#222", formatter: (v: number) => v.toFixed(1) },
      splitLine: { show: true, lineStyle: { color: "#ebebeb", width: 0.8 } },
      name: leftCol ? Y_LABEL : "",
      nameLocation: "middle", nameGap: 30, nameRotate: 90,
      nameTextStyle: { fontSize: 10, fontFamily: FONT, color: "#222" },
    });

    arrs.forEach((arr, k) => {
      const s: any = {
        type: "line", name: SERIES_NAMES[k], xAxisIndex: i, yAxisIndex: i,
        data: arr.map(([d, v]) => [d + shift, v]),
        symbol: "none", showSymbol: false, silent: true, z: 3 + k,
        lineStyle: { color: LINE_COLORS[k], width: 1, opacity: LINE_OPACITY[k] },
        itemStyle: { color: LINE_COLORS[k] },
      };
      if (k >= 2) s.step = "end";
      if (k === 0) {
        s.markArea = {
          silent: true,
          itemStyle: { color: SHADE_COLORS[i] },
          data: [[{ xAxis: SHADE_START_DAY[i] + shift }, { xAxis: SHADE_END_DAY[i] + shift }]],
        };
        s.markLine = {
          silent: true, symbol: ["none", "none"], label: { show: false },
          lineStyle: { type: "dotted", color: "#888", width: 0.8 },
          data: [{ yAxis: 0.5 }],
        };
      }
      series.push(s);
    });

    graphic.push(txt(gl + gw / 2, gt - 10, EVENT_TITLES[i], 10));
  });

  // legend (drawn in the first panel)
  graphic.push({
    type: "rect", shape: { x: 51, y: 75, width: 99, height: 53, r: 2 }, z: 100,
    style: { fill: "rgba(255,255,255,0.85)", stroke: "#d0d0d0", lineWidth: 0.8 },
  });
  SERIES_NAMES.forEach((n, k) => {
    const y = 83 + k * 12.7;
    graphic.push({ type: "line", shape: { x1: 56, y1: y, x2: 75, y2: y }, z: 101, style: { stroke: LINE_COLORS[k], lineWidth: 1.2, opacity: LINE_OPACITY[k] } });
    graphic.push(txt(81, y, n, 8.4, "left"));
  });

  return {
    animation: false,
    backgroundColor: "#ffffff",
    textStyle: { fontFamily: FONT },
    grid, xAxis, yAxis, series,
    graphic: { elements: graphic },
  };
}

export default function App() {
  const ref = useRef<HTMLDivElement>(null);
  useEffect(() => {
    if (!ref.current) return;
    const chart = echarts.init(ref.current, undefined, { renderer: "svg" });
    chart.setOption(buildOption() as any);
    return () => chart.dispose();
  }, []);
  return (
    <div
      ref={ref}
      style={{ position: "absolute", left: 0, top: 0, width: 1024, height: 798, background: "#fff" }}
    />
  );
}
